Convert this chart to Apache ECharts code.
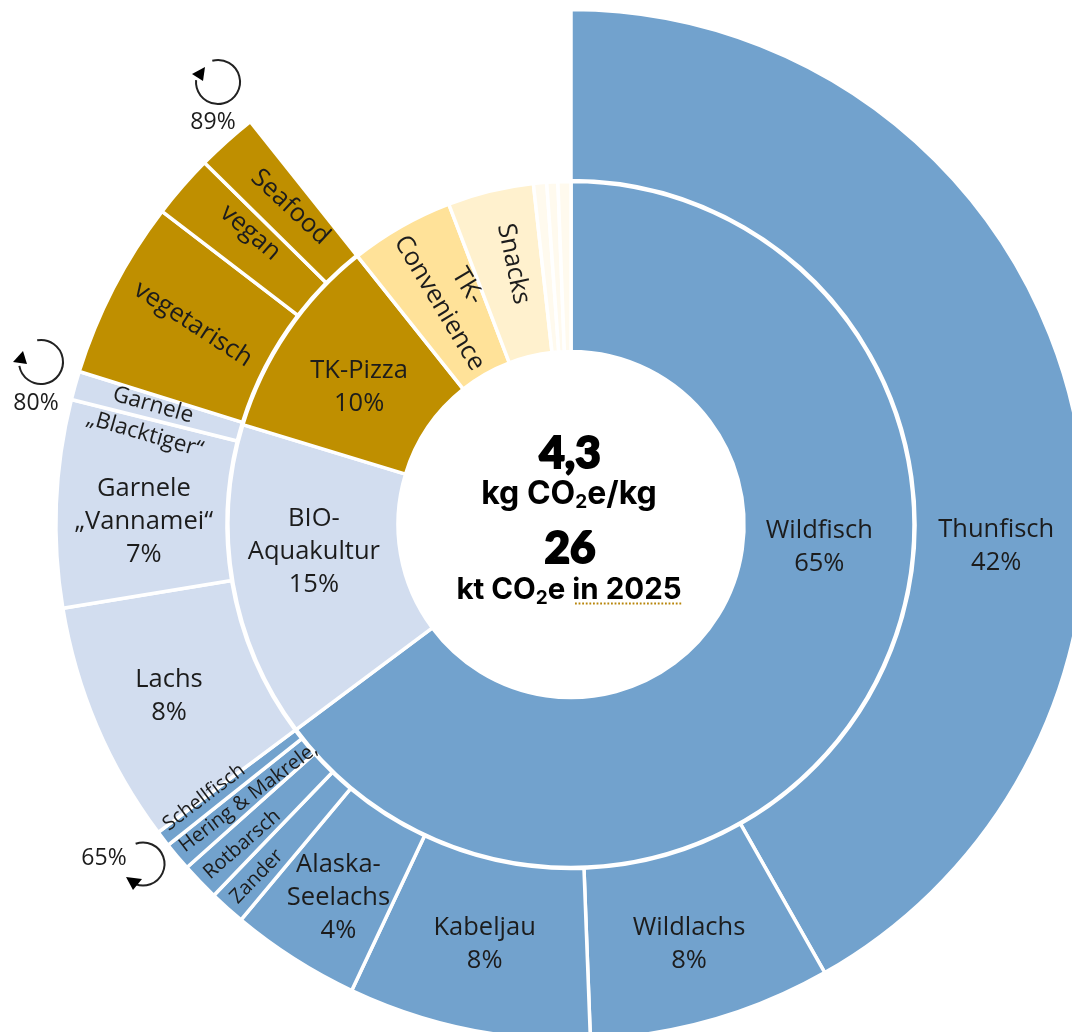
<!DOCTYPE html>
<html><head><meta charset="utf-8">
<style>html,body{margin:0;padding:0;background:#fff}#c{width:1072px;height:1032px}</style>
<script src="https://cdn.jsdelivr.net/npm/echarts@6/dist/echarts.min.js"></script>
</head><body><div id="c"></div>
<script>
// Category names and shares (% of total)
const innerNames  = ['Wildfisch\n65%','BIO-\nAquakultur\n15%','TK-Pizza\n10%','TK-\nConvenience','Snacks','','',''];
const innerValues = [64.8,14.9,9.6,4.9,4.05,0.62,0.52,0.61];
const outerNames  = ['Thunfisch\n42%','Wildlachs\n8%','Kabeljau\n8%','Alaska-\nSeelachs\n4%','Zander','Rotbarsch','Hering & Makrele,','Schellfisch',
                     'Lachs\n8%','Garnele\n„Vannamei“\n7%','Garnele\n„Blacktiger“','vegetarisch','vegan','Seafood',''];
const outerValues = [41.8,7.6,7.6,4.07,1.13,1.2,0.9,0.5,7.6,6.5,0.9,5.6,2.0,1.9,10.7];

// Colours
const BLUE='#72A2CD', PALE='#D2DDEF', GOLD='#BF8F00', SAND='#FFE299', CREAM='#FFF1CE', TINT='#FFFAEE';
const innerColors=[BLUE,PALE,GOLD,SAND,CREAM,TINT,TINT,TINT];
const outerColors=[BLUE,BLUE,BLUE,BLUE,BLUE,BLUE,BLUE,BLUE,PALE,PALE,PALE,GOLD,GOLD,GOLD,'transparent'];

// Label placement
const innerRot=[0,0,0,-59,-78,0,0,0];
const innerShift=[[15,-94],[0,-17.5],[4,9],[3.3,-11.6],[-6,-5],[0,0],[0,0],[0,0]];
const outerRot=[0,0,0,0,46,41,37,37,0,0,-16,-33,-41,-43,0];
const outerShift=[[7,132],[0,4],[0,-4],[0,8.5],[-39.4,2.6],[-26.2,3.6],[9.9,0.3],[-24.8,-7.6],[-4,2],[5,14.5],[-2,13],[4.4,-4.6],[-1,-9.5],[9,-2.5],[0,0]];
const smallIdx=[4,5,6,7,10];

const FONT='"Open Sans"';
const chart=echarts.init(document.getElementById('c'),null,{renderer:'canvas'});
function ring(names,values,colors,rots,shift,radius,small){
  return {type:'pie',center:[571,524.5],radius:radius,startAngle:90,clockwise:true,silent:true,animation:false,
    avoidLabelOverlap:false,minShowLabelAngle:0,
    labelLine:{show:false},
    labelLayout:p=>({dx:shift[p.dataIndex][0],dy:shift[p.dataIndex][1]}),
    label:{show:true,position:'inside',formatter:'{b}',fontFamily:FONT,fontWeight:400,fontSize:25.5,lineHeight:34,color:'#1c1c1c',align:'center'},
    data:names.map((n,i)=>({name:n,value:values[i],
      itemStyle:{color:colors[i],borderColor:colors[i]==='transparent'?'transparent':'#fff',borderWidth:colors[i]==='transparent'?0:3.5},
      label:{rotate:rots[i],fontSize:small.includes(i)?(i===10?22.5:20):25.5,lineHeight:small.includes(i)?30:33}}))};
}
function arc(cx,cy,r,a0,a1,tri){
  return [{type:'arc',shape:{cx,cy,r,startAngle:a0*Math.PI/180,endAngle:a1*Math.PI/180,clockwise:true},style:{fill:'none',stroke:'#222',lineWidth:2}},
          {type:'polygon',shape:{points:tri},style:{fill:'#000'}}];
}
function note(x,y,t){return {type:'text',x,y,style:{text:t,fontFamily:FONT,fontWeight:400,fontSize:23,fill:'#1c1c1c',align:'center',verticalAlign:'middle'}};}
function bigT(y,t){return {type:'text',x:570,y,style:{text:t,fontFamily:'Lato',fontWeight:900,fontSize:44,fill:'#000',align:'center',verticalAlign:'middle',stroke:'#000',lineWidth:2}};}
function subT(y,t,fs){return {type:'text',x:569,y,style:{text:t,fontFamily:'Inter',fontWeight:700,fontSize:fs,fill:'#000',align:'center',verticalAlign:'middle',
  rich:{s:{fontFamily:'Inter',fontWeight:700,fontSize:19,padding:[16,0,0,0],fill:'#000'}}}};}

chart.setOption({
  animation:false,backgroundColor:'#fff',
  series:[
    ring(outerNames,outerValues,outerColors,outerRot,outerShift,[344,515],smallIdx),
    ring(innerNames,innerValues,innerColors,innerRot,innerShift,[173,343],[])
  ],
  graphic:[
    ...arc(218,82,22,-105,185,[[192,74],[205,67],[203,81]]),
    ...arc(41,362,22,-100,170,[[13,362],[23,351],[27,364]]),
    ...arc(143,864,21.5,-110,110,[[126,877],[142,879],[133,890]]),
    note(213,122,'89%'),note(36,403,'80%'),note(104,858,'65%'),
    bigT(454,'4,3'),subT(494,'kg CO{s|2}e/kg',32),
    bigT(549,'26'),subT(590,'kt CO{s|2}e in 2025',29.5),
    {type:'line',shape:{x1:575,y1:603.5,x2:682,y2:603.5},style:{stroke:'#B8860B',lineWidth:2,lineDash:[1.8,1.8]}}
  ]
});
</script></body></html>
